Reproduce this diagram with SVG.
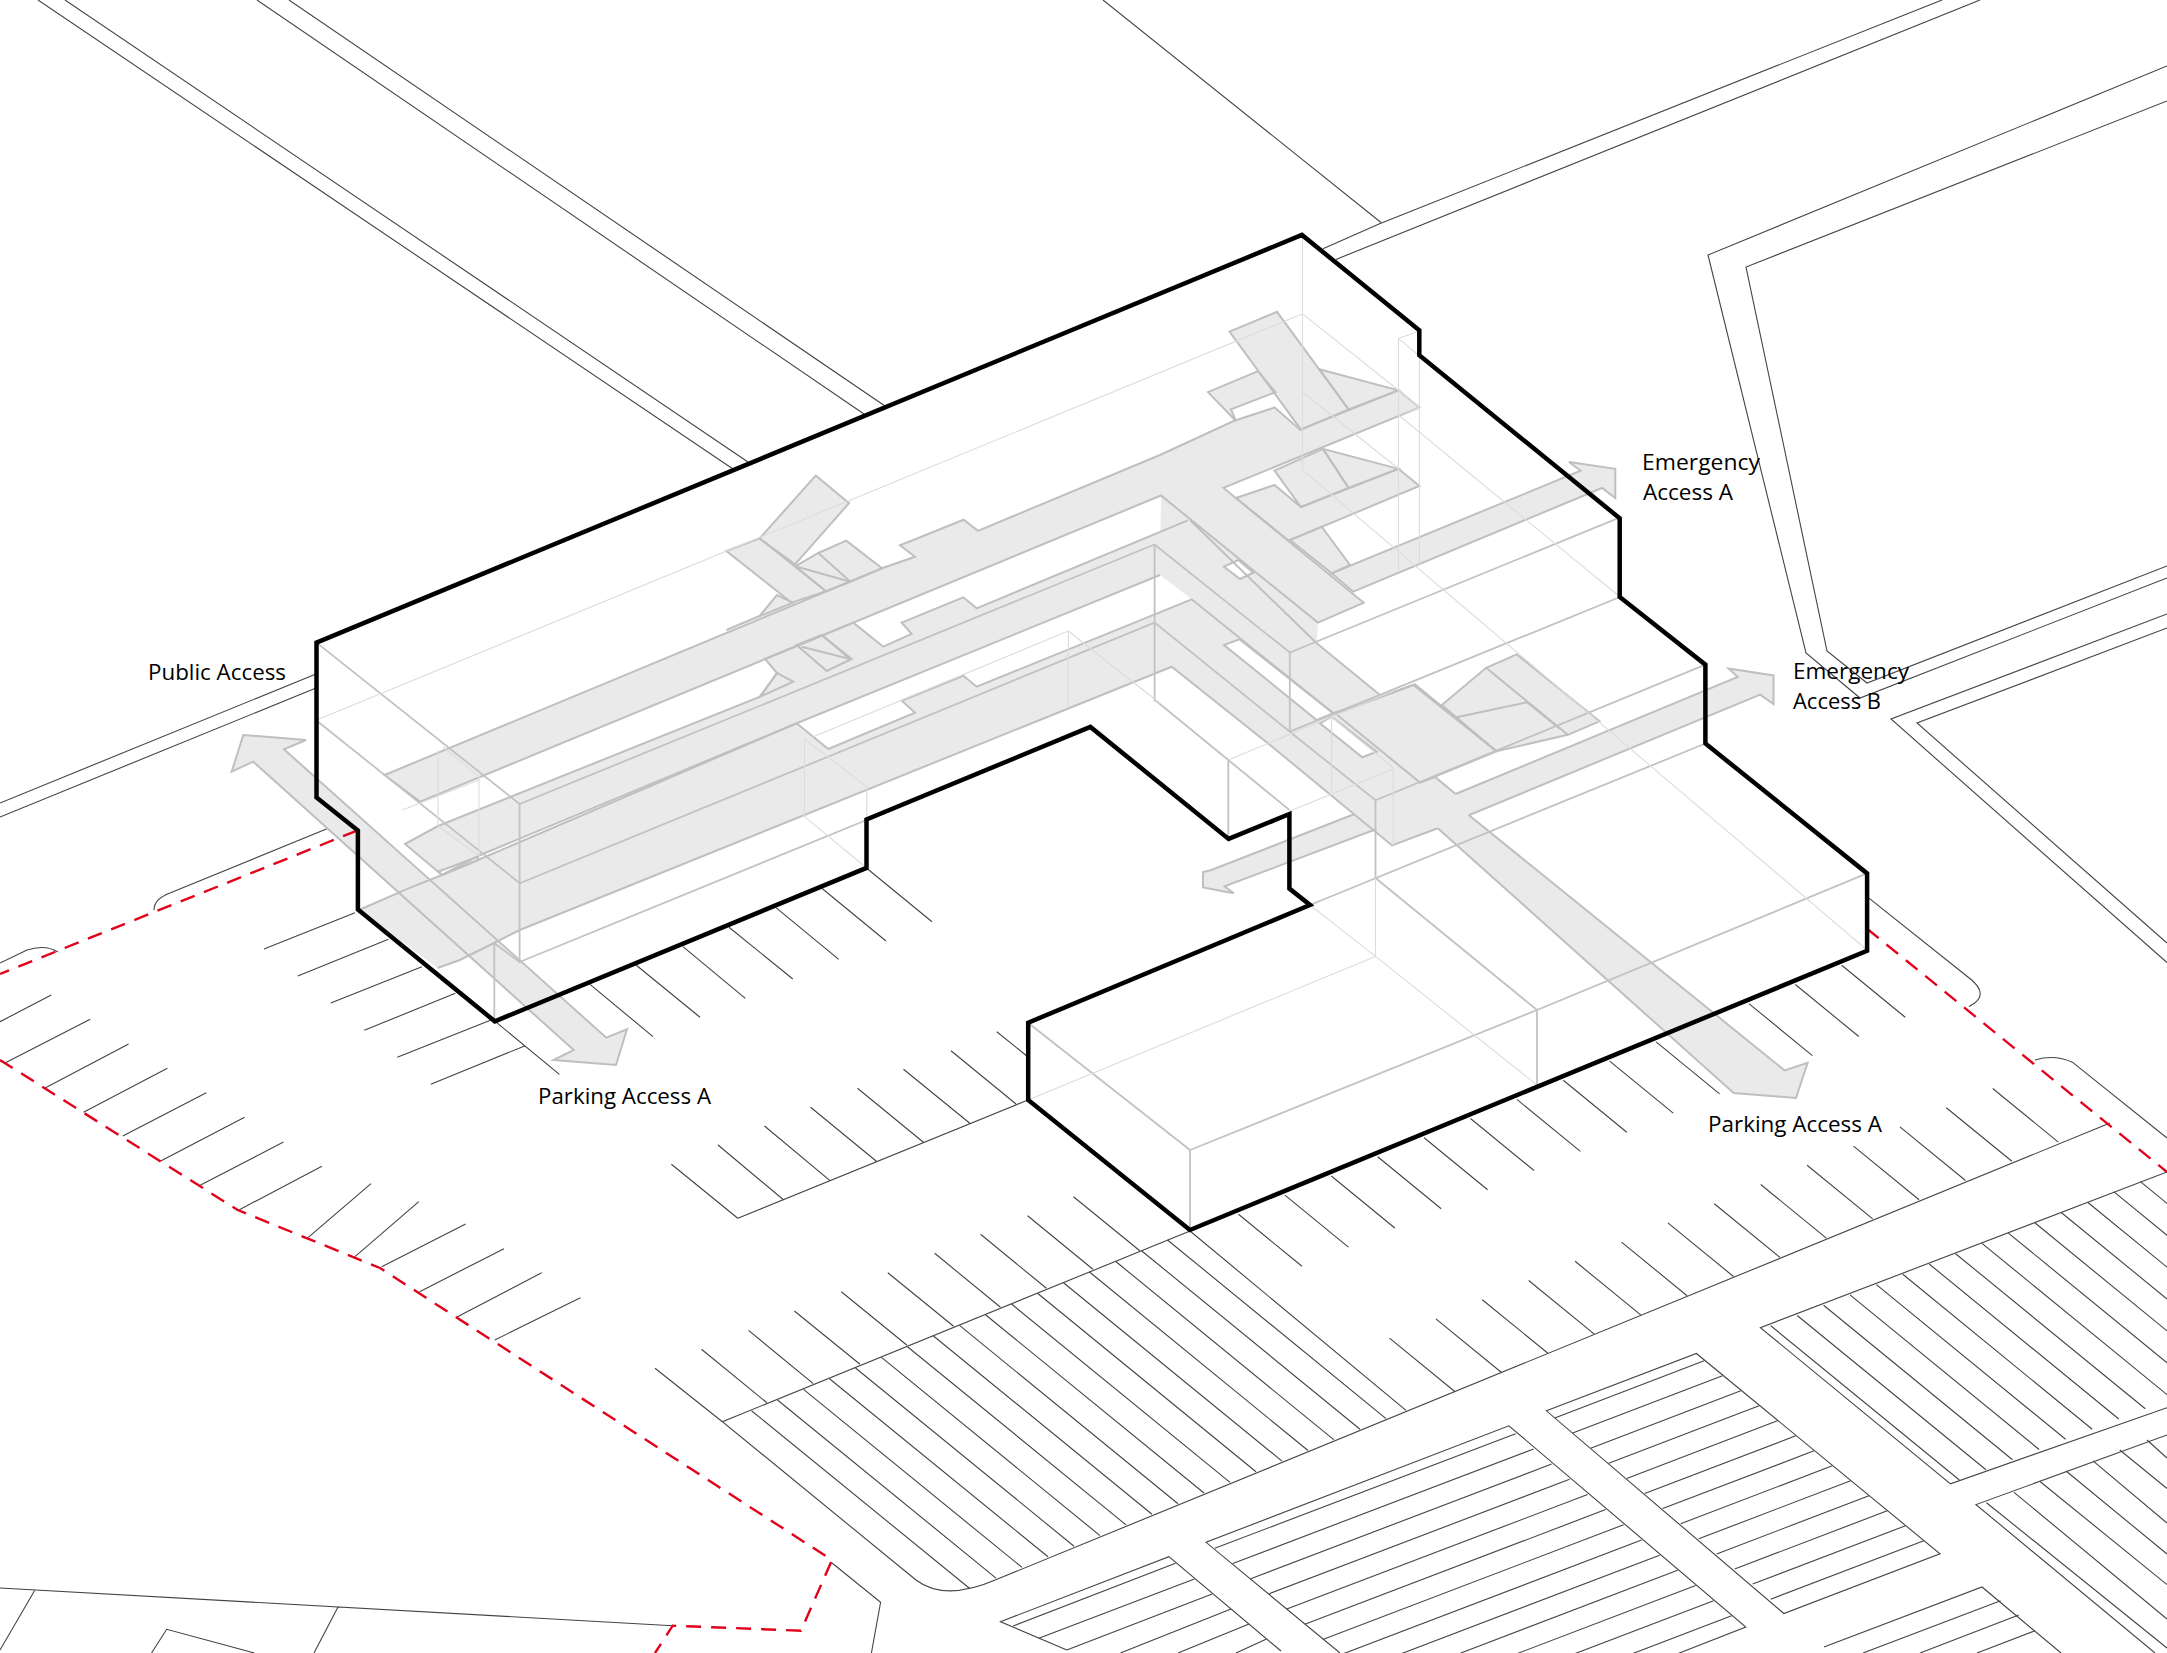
<svg xmlns="http://www.w3.org/2000/svg" xmlns:xlink="http://www.w3.org/1999/xlink" width="2167" height="1653" viewBox="0 0 2167 1653">
<style>
.road{fill:none;stroke:#444;stroke-width:1.1}
.red{fill:none;stroke:#e2001a;stroke-width:2.4;stroke-dasharray:15 10}
.wire{fill:none;stroke:#c2c2c2;stroke-width:1.8}
.faint{fill:none;stroke:#dcdcdc;stroke-width:1.1}
.gf{fill:#eaeaea;stroke:none}
.gs{fill:none;stroke:#bfbfbf;stroke-width:2;stroke-linejoin:miter}
.slot{fill:#fff;stroke:none}
.out{fill:none;stroke:#000;stroke-width:4.5;stroke-linejoin:miter}
text{font-family:"Open Sans","Noto Sans",sans-serif;font-size:22px;fill:#000}
</style>
<defs>
<polygon id="L3" points="384.6,775 882,568.3 915,556.8 900,545.3 963.7,519.7 978,530.8 1160,455 1233.7,421 1274.5,407.5 1300,429.7 1398.5,390.3 1419.4,407.5 1223.5,487.9 1363.8,602.7 1317.9,622.6 1161,495.5 420.3,801.7"/>
<polygon id="L2" points="405,844 438,826 760,696.7 777,673 765,659 853.3,622.7 883.3,646.7 911.7,634 901.7,622.7 963.3,597.3 976.7,608.3 1187.8,520.4 1160,575 796.7,723.3 478,856 442,875"/>
<polygon id="L1" points="442,875 478,860 796.7,723.3 828.3,749 915,712.7 901.7,700.7 963.3,675.7 976.7,686.7 1191.7,599.3 1333.3,713.3 1415,684.3 1496.4,751.2 1420,782.6 1435,777 1455.6,794 1469.4,815 1437.8,828.2 1392,845.4 1270,745 1171.7,666.7 519.8,930 494,943 459.8,960 437.5,968 359,910 408.5,888.3"/>
<polygon id="NS2" points="1161,495.5 1317.9,622.6 1316.7,643.3 1380,695 1333.3,713.3 1191.7,599.3 1160,575"/>
<polygon id="E2" points="1236,498 1274.5,485 1301,507 1398.5,468.8 1419.4,486 1288.8,540.7"/>
<polygon id="Stub" points="1290,540 1321.7,526.7 1350,565 1331.7,573.3"/>
<polygon id="ArrA" points="1569,462 1615.3,468.8 1615.3,498 1602,488 1353.3,591.7 1331.7,573.3 1580.6,470.7"/>
<polygon id="ArrB" points="1728.6,668.5 1773.5,675.4 1773.5,704 1760.2,694.6 1469.4,815 1455.6,794 1737.8,677"/>
<polygon id="ArrW" points="1210.7,870.3 1203,872 1203,887.5 1233.7,893.3 1224.5,886.4 1376.5,829 1354.6,814"/>
<polygon id="ArrS" points="1437.8,828.2 1733.7,1093 1796,1098 1807.6,1062.8 1784.7,1070.5 1468.4,814.8"/>
<polygon id="ArrP" points="243.3,735 306,740 284,749.3 606.3,1037.7 627,1029.3 616,1065 553.6,1060 573.7,1050 253.3,761.7 231.7,771.7"/>
<polygon id="S1" points="815.7,475.6 849,503.2 795,564.4 759.6,538.4"/>
<polygon id="S2" points="726.4,551 759.6,538.4 825.9,591.2 791.7,602.7"/>
<polygon id="S3" points="792.8,602.7 777,595 759.6,616 726.4,630"/>
<polygon id="S4" points="795.3,566.3 818.3,553 846.3,540.7 882,568.3 850.4,581.7 825.9,591.2"/>
<polygon id="S5" points="760,696.7 777,673 793.3,681.7"/>
<polygon id="S6" points="796.7,645 821.7,635 851.7,659 826.7,671"/>
<polygon id="E1" points="1229.6,331.7 1277,311.8 1348.5,409.4 1301,429.7"/>
<polygon id="E3" points="1319.4,369.3 1398.5,390.3 1348.5,409.4"/>
<polygon id="E4" points="1208,392.2 1258,371.2 1275.5,392.2 1231,409.4 1236,421"/>
<polygon id="E5" points="1274.5,470.7 1323,448.9 1348.5,487.9 1301,507"/>
<polygon id="E6" points="1323,448.9 1398.5,468.8 1348.5,487.9"/>
<polygon id="B1" points="1335.7,713.7 1413.3,685 1496.4,751.2 1420,782.6"/>
<polygon id="B2" points="1441.8,704.9 1486.2,667.8 1516.8,654.4 1599.5,721.3 1567.9,734.8 1496.4,751.2"/>
</defs>

<g id="roads" class="road">
<path d="M38,0L733,469M65,0L748,462M257,0L864,414M289,0L885,406"/>
<path d="M1103,0L1381,222.5M1323,248.7L1379,224L1942,0M1336,259.4L1980,0"/>
<path d="M2167,66L1708,255L1806,653L1860,698L2167,578M2167,101L1746,267L1827,651L1867,683L2167,566"/>
<path d="M2167,614L1891,719L2167,962.6M2167,628L1917,723L2167,943"/>
<path d="M0,803L316,674M0,817L316,688"/>
<path d="M341,823L170,893Q154,899 154,910M58,952Q45,944 27,950L0,963"/>
<path d="M1868,897.4L1971.7,980Q1990,996 1969,1006.6M2035,1060Q2055,1054 2073,1062.6L2167,1138"/>
<path d="M832,1563L880.6,1602.3L871.4,1653"/>
<path d="M0,1588L672.7,1625.7M34.5,1590.7L0,1650M338,1607L314,1653M151.5,1653L166.7,1629.3L254.5,1653"/>
</g>

<g id="parking-west" class="road">
<path d="M355,912.7L264,949M388.4,939.3L297.8,976M421.9,966.7L330.8,1003M455.4,993.3L364.3,1030.3M491,1020L397.3,1057.3M524.6,1046L430.8,1084.3M495.5,1021.7L559.4,1074.3"/>
<path d="M866.7,868.3L932,921.7M821.8,888.3L886,941M776,907.7L838.7,959.3M729,927.3L792.8,979M683,946.7L745.3,998.3M636,965L700,1017.3M590,984.3L653,1036.7"/>
<path d="M1028,1100L737.8,1218.3M996.8,1031.7L1028,1057M951,1050.7L1016,1104M903.5,1069.3L969.8,1123.3M857.5,1088.3L923.4,1142.3M810.6,1107.3L877,1161.7M764.5,1126L830,1180.7M718,1145L783.7,1200M671.4,1164.3L737.8,1218.3"/>
<path d="M0,1021.7L51.3,995M4.5,1063.3L90.2,1019.3M44.6,1088.3L128.6,1044M83.5,1112.3L167.4,1068.3M122.8,1136L206.3,1092.7M160.7,1161L244.6,1117.3M198.7,1186L283.5,1142M237.5,1210.7L321.9,1166.3M308,1237.7L371,1183.7M355,1256.7L418.8,1201.7M381.7,1266.7L465.6,1224M419.6,1291.7L504,1248.7M457,1317L541.7,1272.8M494.8,1340L580.4,1297.7"/>
</g>

<g id="parking-edge" class="road">
<path d="M1841.7,965.3L1905.2,1017.3M1795.3,984.5L1858.8,1036.5M1748.9,1003.6L1812.4,1055.6M1656.1,1041.9L1719.6,1093.9M1609.7,1061.1L1673.2,1113.1M1563.3,1080.2L1626.8,1132.2M1516.9,1099.4L1580.4,1151.4M1470.5,1118.5L1534,1170.5M1424.1,1137.7L1487.6,1189.7M1377.7,1156.8L1441.2,1208.8M1331.3,1176L1394.8,1228M1284.9,1195.1L1348.4,1247.1M1238.5,1214.3L1302,1266.3"/>
<path d="M1992.7,1088.5L2058.3,1142.1M1946.3,1107.7L2011.9,1161.3M1899.9,1126.9L1965.5,1180.5M1853.5,1146.1L1919.1,1199.7M1807.1,1165.3L1872.7,1218.9M1760.7,1184.5L1826.3,1238.1M1714.3,1203.7L1779.9,1257.3M1667.9,1222.9L1733.5,1276.5M1621.5,1242.1L1687.1,1295.7M1575.1,1261.3L1640.7,1314.9M1528.7,1280.5L1594.3,1334.1M1482.3,1299.7L1547.9,1353.3M1435.9,1318.9L1501.5,1372.5M1389.5,1338.1L1455.1,1391.7"/>
<path d="M1073.5,1196.7L1139.8,1250.7M1027.6,1215.7L1092.9,1269.3M980.6,1234.3L1046.4,1288.3M934.7,1253.3L1000.5,1307.3M887.8,1272.7L953.6,1326.3M841.3,1291.7L907,1345.3M794.4,1311L860,1364.3M748.5,1330.3L813.3,1383.7M701.5,1349.3L766.8,1402.7M655,1368.3L722.4,1421.7"/>
</g>

<g id="parking-band" class="road">
<path d="M1190,1231L722.4,1421.7L916,1580Q945,1602 997,1579.3L2110,1123"/>
<path d="M751.5,1410.7L970,1588.7M777.5,1400L996,1578.1M803.5,1389.4L1022,1567.4M829.5,1378.7L1048,1556.8M855.5,1368L1074,1546.2M881.5,1357.4L1100,1535.6M907.5,1346.7L1126,1524.9M933.5,1336L1152,1514.3M959.5,1325.4L1178,1503.7M985.5,1314.7L1204,1493M1011.5,1304L1230,1482.4M1037.5,1293.3L1256,1471.8M1063.5,1282.7L1282,1461.1M1089.5,1272L1308,1450.5M1115.5,1261.3L1334,1439.9M1141.5,1250.7L1360,1429.2M1167.5,1240L1386,1418.6M1190,1231L1406,1410.4"/>
</g>

<g id="block-1" class="road">
<path d="M1066.8,1650L1000.5,1621.7L1168.9,1556.7L1281,1651"/>
<path d="M1013.3,1626L1175.5,1563.3M1038.8,1638.3L1194.4,1579M1066.8,1650L1212.2,1594M1120.4,1653L1231,1609M1178,1653L1249,1624M1236,1653L1266,1639.3"/>
</g>
<g id="block-2" class="road">
<path d="M1340,1653L1206,1542.3L1508.9,1425.8L1745.8,1627L1636,1670"/>
<path d="M1214.8,1548.3L1515.6,1433.8M1232.8,1563.5L1533.6,1449M1250.8,1578.7L1551.6,1464.1M1268.8,1593.9L1569.6,1479.3M1286.8,1609.1L1587.6,1494.5M1304.8,1624.3L1605.6,1509.6M1322.8,1639.5L1623.6,1524.8M1340.8,1654.7L1641.6,1540M1358.8,1669.9L1659.6,1555.2M1376.8,1685.1L1677.6,1570.3M1394.8,1700.3L1695.6,1585.5M1412.8,1715.5L1713.6,1600.7M1430.8,1730.7L1731.6,1615.8"/>
</g>
<g id="block-3" class="road">
<path d="M1546.4,1410.8L1696.4,1353.5L1940,1553.8L1783.8,1613.5Z"/>
<path d="M1554.7,1418L1704.2,1360.8M1572.7,1433.1L1722.5,1375.8M1590.7,1448.2L1740.8,1390.8M1608.7,1463.3L1759.1,1405.8M1626.7,1478.4L1777.4,1420.8M1644.7,1493.5L1795.7,1435.8M1662.7,1508.6L1814,1450.8M1680.7,1523.7L1832.3,1465.8M1698.7,1538.8L1850.6,1480.8M1716.7,1553.9L1868.9,1495.8M1734.7,1569L1887.2,1510.8M1752.7,1584.1L1905.5,1525.8M1770.7,1599.2L1923.8,1540.8"/>
</g>
<g id="block-4" class="road">
<path d="M2167,1172L1760.4,1327.7L1950.5,1483.8L2167,1407.7"/>
<path d="M1770.8,1325.8L1959.4,1480M1797.2,1315.5L1986,1469.8M1823.6,1305.2L2012.5,1459.7M1850,1294.9L2039.1,1449.5M1876.4,1284.6L2065.6,1439.3M1902.8,1274.3L2092.2,1429.2M1929.2,1264L2118.8,1419M1955.6,1253.7L2145.3,1408.8M1982,1243.4L2171.9,1398.6M2008.4,1233.1L2198.4,1388.5M2034.8,1222.8L2225,1378.3M2061.2,1212.5L2251.6,1368.1M2087.6,1202.2L2278.1,1358M2114,1191.9L2304.7,1347.8M2140.4,1181.6L2331.2,1337.6"/>
</g>
<g id="block-5" class="road">
<path d="M2167,1435L1976,1504.6L2155,1653"/>
<path d="M1986.5,1502.7L2167,1648M2014,1492.3L2167,1619M2040,1481.5L2167,1584.6M2066,1471L2167,1554M2093,1460.8L2167,1523M2119.8,1450L2167,1488.5M2147,1440L2167,1458"/>
</g>
<g id="block-6" class="road">
<path d="M1824,1647L1982,1587L2061,1653"/>
<path d="M2000.6,1600.8L1863,1653M2018.7,1615L1920,1653M2034.8,1630.8L1977,1653"/>
</g>

<g id="corridor-fills" class="gf">
<use href="#L3"/><use href="#L2"/><use href="#L1"/><use href="#NS2"/><use href="#E2"/><use href="#Stub"/>
<use href="#ArrA"/><use href="#ArrB"/><use href="#ArrW"/><use href="#ArrS"/><use href="#ArrP"/>
<use href="#S1"/><use href="#S2"/><use href="#S3"/><use href="#S4"/><use href="#S5"/><use href="#S6"/>
<use href="#E1"/><use href="#E3"/><use href="#E4"/><use href="#E5"/><use href="#E6"/><use href="#B1"/><use href="#B2"/>
</g>
<g id="slots" class="slot">
<polygon points="1224,566.7 1238.3,560 1253.3,572.7 1240,579"/>
<polygon points="1224,645 1239.3,639.3 1333.3,713.3 1316.7,720"/>
<polygon points="1331.7,716.7 1376.7,751.7 1362.3,757.3 1320,723.3"/>
<polygon points="438,871.7 478,856.7 478,860 442,875"/>
</g>
<g id="corridor-lines" class="gs">
<use href="#L3"/><use href="#E2"/><use href="#Stub"/><use href="#ArrA"/><use href="#ArrP"/>
<use href="#S1"/><use href="#S2"/><use href="#S3"/><use href="#S4"/><use href="#S5"/><use href="#S6"/>
<use href="#E1"/><use href="#E3"/><use href="#E4"/><use href="#E5"/><use href="#E6"/><use href="#B1"/><use href="#B2"/>
<path d="M442,875L405,844L438,826L760,696.7L777,673L765,659L853.3,622.7L883.3,646.7L911.7,634L901.7,622.7L963.3,597.3L976.7,608.3L1187.8,520.4M1160,575L796.7,723.3L478,856L442,875"/>
<path d="M359,910L408.5,888.3L442,875L478,860L796.7,723.3L828.3,749L915,712.7L901.7,700.7L963.3,675.7L976.7,686.7L1191.7,599.3L1333.3,713.3L1415,684.3L1496.4,751.2L1420,782.6L1435,777L1455.6,794M1437.8,828.2L1392,845.4L1270,745L1171.7,666.7L519.8,930L494,943L459.8,960L437.5,968"/>
<path d="M1190,520L1316.7,643.3L1380,695"/>
<path d="M1469.4,815L1760.2,694.6L1773.5,704L1773.5,675.4L1728.6,668.5L1737.8,677L1455.6,794"/>
<path d="M1354.6,814L1210.7,870.3L1203,872L1203,887.5L1233.7,893.3L1224.5,886.4L1376.5,829"/>
<path d="M1437.8,828.2L1733.7,1093L1796,1098L1807.6,1062.8L1784.7,1070.5L1468.4,814.8"/>
<path d="M795.3,566.3L850.4,581.7M818.3,553L850.4,581.7M801.7,646.7L850,659M821.7,635L850,659"/>
<path d="M1486.2,667.8L1567.9,734.8M1455.6,717.5L1527,702.2L1560,729"/>
<polygon points="1224,566.7 1238.3,560 1253.3,572.7 1240,579"/>
<polygon points="1224,645 1239.3,639.3 1333.3,713.3 1316.7,720"/>
<polygon points="1331.7,716.7 1376.7,751.7 1362.3,757.3 1320,723.3"/>
<polygon points="438,871.7 478,856.7 478,860 442,875"/>
</g>

<g id="wire" class="wire">
<path d="M316.5,642.6L519.6,804L1154.6,544.5L1289.8,652.5L1620,517.4M1289.8,652.5V731.7M1154.6,544.5V701.4M519.6,804V962L866.5,820"/>
<path d="M318,721.7L519.8,883.3L1154.6,622.6L1289.8,731.7L1620,597M1289.8,731.7L1375.5,800.3L1705.4,664.7M1375.5,800.3V878L1537,1010L1867,873.4"/>
<path d="M1155,700L1228.3,760L1289.4,810M1228.3,760V838.9M1310,905L1705.4,743.5M1537,1010V1085M1537,1010L1190,1150V1230M1190,1150L1028,1022.7"/>
<path d="M494.3,943.3V1021M494.3,943.3L519.8,962"/>
</g>
<g id="wire-faint" class="faint">
<path d="M318,719.4L1302.5,313.8L1398.5,390.3L1419.4,407.5M1302.5,235V470M1302.5,392L1398.5,468.8M1302.5,470L1867,950"/>
<path d="M1398.5,338.6V572M1419.4,331V564.4M1398.5,338.6L1419.4,331M1398.5,338.6L1419.4,356M1398.5,415L1419.4,407.5M1398.5,415L1620,597"/>
<path d="M1375.5,956.4L1028,1100M1375.5,878V956.4M1310,905L1375.5,956.4L1537,1085"/>
<path d="M1331.6,717V792M1331.6,717L1393.3,768V845M1228.3,760L1393.3,691M1290,811L1393.3,769"/>
<path d="M813.3,736.7L1068.3,631V708.3M1068.3,631L1160,703.3M804.5,739V816.7M804.5,739L866.7,786.7V820M804.5,816.7L866.7,868"/>
<path d="M438,750V826M443,746.7L479,776.7V856M438,826L479,856M479,780L402.4,810"/>
</g>

<g id="boundary" class="red">
<path d="M357,830.6L0,974"/>
<path d="M0,1060L237.7,1210L380,1268L832,1560L801,1630.7L672.7,1625.7L655,1653"/>
<path d="M1867,928.7L2167,1172"/>
</g>

<polygon id="building-outline" class="out" points="316.5,642.6 1301.9,234.9 1419.3,330.3 1419.3,355.2 1619.7,518.3 1619.7,597 1705.4,664.7 1705.4,743.5 1867.1,873.4 1867.1,950.8 1189.9,1230 1028.2,1100 1028.2,1022.7 1310,905 1289.4,888.6 1289.4,814 1228.6,838.9 1090.4,726.9 866.5,819.5 866.5,867.9 494.8,1021.3 357.9,909.4 357.9,830.6 316.5,797.4"/>

<g id="labels">
<text x="148" y="680" textLength="138" lengthAdjust="spacingAndGlyphs">Public Access</text>
<text x="538" y="1104" textLength="173" lengthAdjust="spacingAndGlyphs">Parking Access A</text>
<text x="1708" y="1132" textLength="174" lengthAdjust="spacingAndGlyphs">Parking Access A</text>
<text x="1642" y="470" textLength="118" lengthAdjust="spacingAndGlyphs">Emergency</text>
<text x="1643" y="500" textLength="90" lengthAdjust="spacingAndGlyphs">Access A</text>
<text x="1793" y="679" textLength="116" lengthAdjust="spacingAndGlyphs">Emergency</text>
<text x="1793" y="709" textLength="88" lengthAdjust="spacingAndGlyphs">Access B</text>
</g>
</svg>
